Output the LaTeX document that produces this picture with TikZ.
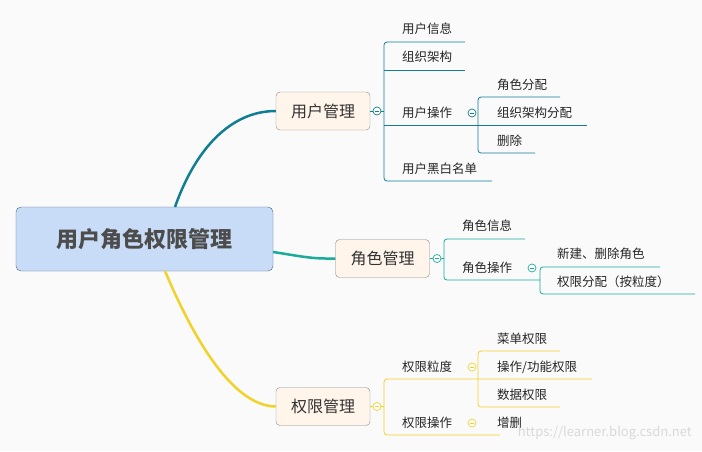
\documentclass[tikz,border=0pt]{standalone}
\usepackage{fontspec}
\setmainfont{Noto Sans CJK SC}
\definecolor{cU}{HTML}{117E94}
\definecolor{cR}{HTML}{1AAB9B}
\definecolor{cP}{HTML}{F2D12A}
\definecolor{rootfill}{HTML}{C9DCF7}
\definecolor{rootdraw}{HTML}{4A5F85}
\tikzset{
 x=1pt,y=-1pt,
 leaf/.style={anchor=west,font=\fontsize{12.5}{14}\selectfont,text=black!85,inner sep=0},
 topic/.style={draw=black!45,rounded corners=4pt,fill=orange!8,minimum width=94pt,minimum height=38pt,font=\fontsize{16}{18}\selectfont,text=black!80},
 fold/.style={circle,draw=#1,fill=white,minimum size=8pt,inner sep=0,line width=0.7pt,
   path picture={\draw[#1,line width=0.7pt] ([xshift=-2pt]path picture bounding box.center) -- ([xshift=2pt]path picture bounding box.center);}},
 br/.style={draw=#1,line width=0.8pt,rounded corners=3pt},
}
\begin{document}
\begin{tikzpicture}
\fill[black!2] (0,0) rectangle (702,451);
\useasboundingbox (0,0) rectangle (702,451);
% root
\node[draw=rootdraw,rounded corners=5pt,fill=rootfill,minimum width=257pt,minimum height=64pt,font=\bfseries\fontsize{22}{24}\selectfont,text=black!70] (root) at (144.5,239) {用户角色权限管理};
\node[topic] (u) at (323,111) {用户管理};
\node[topic] (r) at (382.5,258.5) {角色管理};
\node[topic] (p) at (323,406.5) {权限管理};
\coordinate (rt) at (175,207);
\coordinate (rb) at (165,271);
\coordinate (rr) at (273,252);
\draw[cU,line width=2.5pt] (rt) .. controls (195,150) and (230,111) .. (u.west);
\draw[cR,line width=2.5pt] (rr) .. controls (300,256) and (310,259) .. (r.west);
\draw[cP,line width=2.5pt] (rb) .. controls (190,330) and (230,406) .. (p.west);
% user branch
\draw[br=cU] (u.east) -- (384,111);
\draw[br=cU] (465,42) -- (384,42) -- (384,181) -- (492,181);
\draw[br=cU] (384,70) -- (465,70);
\draw[br=cU] (384,125) -- (587,125);
\draw[br=cU] (560,97) -- (478,97) -- (478,153) -- (535,153);
\node[fold=cU] (uf) at (377,111) {};
\node[fold=cU] (uof) at (472,113) {};
\node[leaf] (u1) at (402,29) {用户信息};
\node[leaf] (u2) at (402,57) {组织架构};
\node[leaf] (u3) at (402,113) {用户操作};
\node[leaf] (u4) at (402,169) {用户黑白名单};
\node[leaf] (u31) at (497,85) {角色分配};
\node[leaf] (u32) at (497,113) {组织架构分配};
\node[leaf] (u33) at (497,141) {删除};
% role branch
\draw[br=cR] (r.east) -- (444,258.5);
\draw[br=cR] (525,239) -- (444,239) -- (444,280) -- (540,280);
\draw[br=cR] (660,267) -- (540,267) -- (540,294) -- (695,294);
\node[fold=cR] (rf) at (437,258.5) {};
\node[fold=cR] (rof) at (532,268) {};
\node[leaf] (r1) at (462,226) {角色信息};
\node[leaf] (r2) at (462,268) {角色操作};
\node[leaf] (r21) at (557,254) {新建、删除角色};
\node[leaf] (r22) at (557,282) {权限分配（按粒度）};
% perm branch
\draw[br=cP] (p.east) -- (384,406.5);
\draw[br=cP] (592,379) -- (384,379) -- (384,435) -- (500,435);
\draw[br=cP] (560,351) -- (478,351) -- (478,407) -- (560,407);
\node[fold=cP] (pf) at (377,406.5) {};
\node[fold=cP] (pf1) at (472,367) {};
\node[fold=cP] (pf2) at (472,423) {};
\node[leaf] (p1) at (402,367) {权限粒度};
\node[leaf] (p2) at (402,423) {权限操作};
\node[leaf] (p11) at (497,339) {菜单权限};
\node[leaf] (p12) at (497,367) {操作/功能权限};
\node[leaf] (p13) at (497,395) {数据权限};
\node[leaf] (p21) at (497,423) {增删};
\node[anchor=east,font=\fontsize{13}{15}\selectfont,text=black!15,inner sep=0] (wm) at (692,433) {https://learner.blog.csdn.net};
\end{tikzpicture}
\end{document}
